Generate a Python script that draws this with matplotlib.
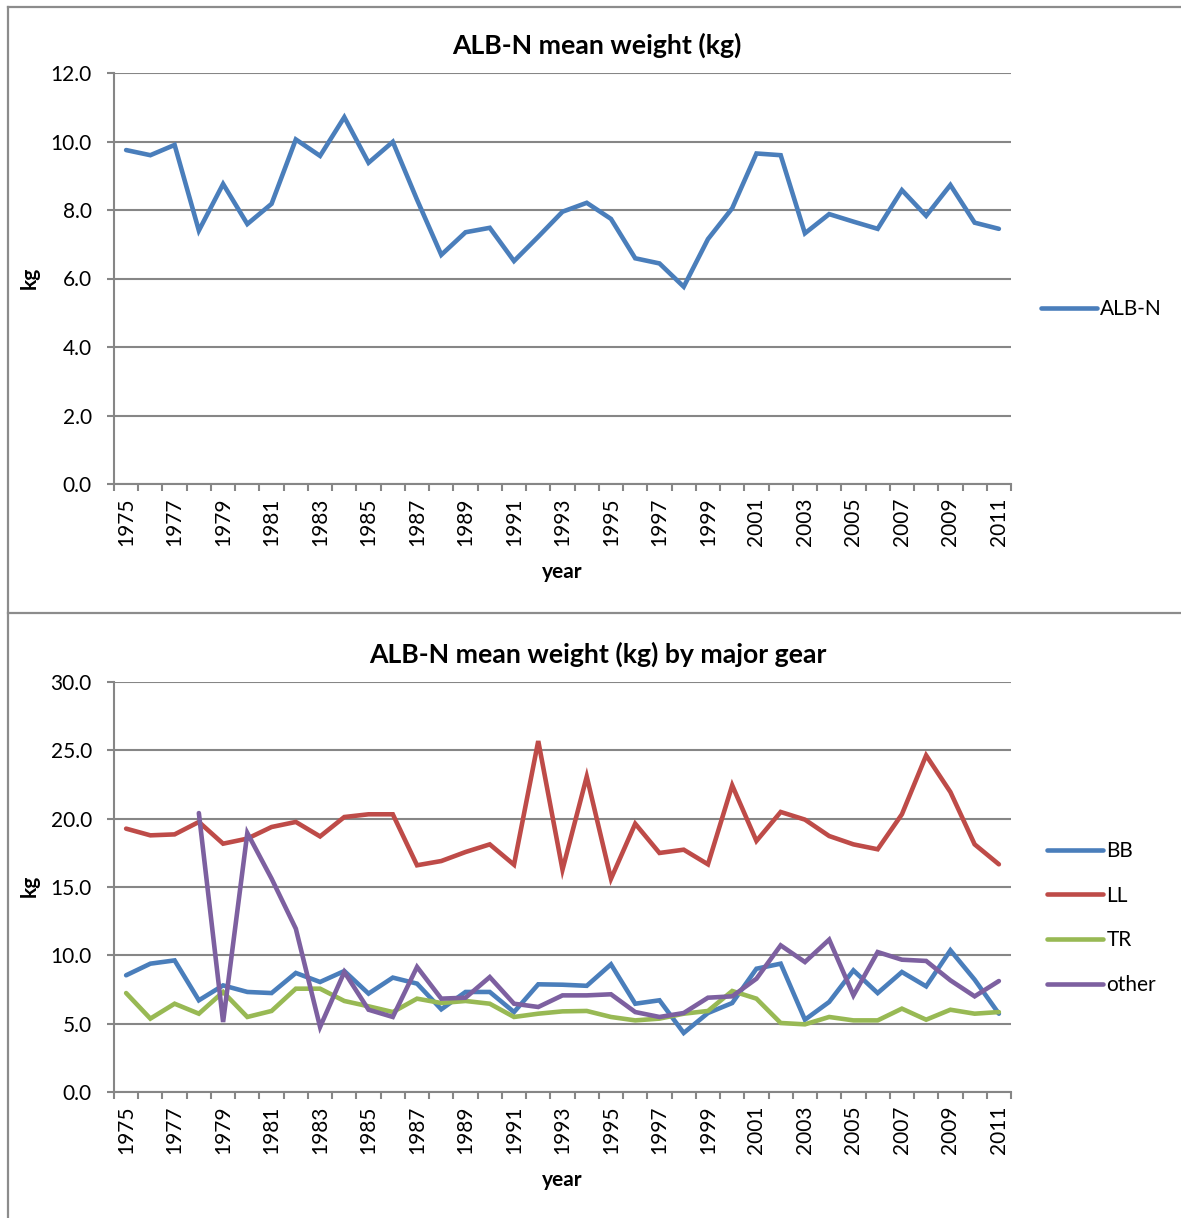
import matplotlib

matplotlib.use("Agg")
import matplotlib.pyplot as plt
from matplotlib.lines import Line2D
from matplotlib.ticker import FixedLocator, FuncFormatter

plt.rcParams["font.family"] = ["Lato", "DejaVu Sans"]

YEARS = list(range(1975, 2012))

# mean weight (kg), all gears
ALB_N = [9.75, 9.6, 9.9, 7.4, 8.76, 7.59, 8.18, 10.06, 9.58, 10.71,
         9.38, 9.99, 8.3, 6.69, 7.35, 7.48, 6.51, 7.22, 7.95, 8.21,
         7.74, 6.59, 6.44, 5.76, 7.15, 8.05, 9.65, 9.6, 7.32, 7.88,
         7.66, 7.45, 8.58, 7.83, 8.73, 7.63, 7.45]

# mean weight (kg) by major gear
BB = [8.54, 9.39, 9.63, 6.71, 7.8, 7.32, 7.24, 8.71, 8.05, 8.85,
      7.2, 8.37, 7.93, 6.05, 7.32, 7.32, 5.85, 7.88, 7.85, 7.77,
      9.34, 6.46, 6.71, 4.32, 5.78, 6.51, 9.02, 9.39, 5.29, 6.59,
      8.9, 7.24, 8.78, 7.73, 10.37, 8.22, 5.73]
LL = [19.27, 18.78, 18.85, 19.76, 18.17, 18.54, 19.39, 19.76, 18.7, 20.12,
      20.32, 20.32, 16.59, 16.9, 17.56, 18.12, 16.63, 25.68, 16.27, 23.08,
      15.6, 19.63, 17.49, 17.73, 16.66, 22.44, 18.37, 20.49, 19.93, 18.73,
      18.12, 17.76, 20.32, 24.63, 21.95, 18.12, 16.66]
TR = [7.24, 5.37, 6.46, 5.73, 7.32, 5.49, 5.93, 7.56, 7.56, 6.66,
      6.27, 5.85, 6.83, 6.51, 6.66, 6.46, 5.49, 5.73, 5.9, 5.93,
      5.49, 5.24, 5.37, 5.73, 5.93, 7.39, 6.83, 5.05, 4.95, 5.49,
      5.24, 5.24, 6.1, 5.29, 6.02, 5.73, 5.85]
OTHER = [None, None, None, 20.41, 5.12, 18.95, 15.61, 11.95, 4.76, 8.78,
         6.02, 5.49, 9.15, 6.83, 6.9, 8.41, 6.46, 6.22, 7.07, 7.07,
         7.15, 5.85, 5.49, 5.78, 6.9, 7.0, 8.29, 10.73, 9.51, 11.15,
         7.07, 10.24, 9.68, 9.59, 8.17, 7.0, 8.12]

GEAR_NAMES = ["BB", "LL", "TR", "other"]
GEAR_COLORS = ["#4a7ebb", "#be4b48", "#98b954", "#7d60a0"]

W, H = 1181, 1218
AXIS = "#868686"
FS = 15
TITLE_FS = 19.2
LW = 3.3


def fx(px):
    return px / W


def fy(py):
    return 1 - py / H


def style(ax, ymax, ystep):
    n = len(YEARS)
    ax.set_xlim(-0.5, n - 0.5)
    ax.set_ylim(0, ymax)
    ax.set_yticks([i * ystep for i in range(int(round(ymax / ystep)) + 1)])
    ax.yaxis.set_major_formatter(FuncFormatter(lambda v, _: f"{v:.1f}"))
    ax.grid(True, axis="y", color=AXIS, linewidth=1.5)
    ax.set_axisbelow(True)
    for side in ("top", "right"):
        ax.spines[side].set_visible(False)
    for side in ("bottom", "left"):
        ax.spines[side].set_color(AXIS)
        ax.spines[side].set_linewidth(1.5)
    ax.tick_params(axis="y", colors=AXIS, length=5, width=1.5,
                   labelcolor="black", labelsize=FS, pad=11)
    # year labels on every other category, tick marks on category edges
    ax.xaxis.set_major_locator(FixedLocator(list(range(0, n, 2))))
    ax.set_xticklabels([str(y) for y in YEARS[::2]], rotation=90)
    ax.xaxis.set_minor_locator(FixedLocator([i - 0.5 for i in range(n + 1)]))
    ax.tick_params(axis="x", which="major", length=0, labelsize=FS, pad=10)
    ax.tick_params(axis="x", which="minor", length=5, width=1.5, colors=AXIS)
    ax.set_xlabel("year", fontsize=FS, fontweight="bold", labelpad=11)


fig = plt.figure(figsize=(W / 100, H / 100), dpi=100)
fig.set_facecolor("white")

# chart frames
for xs, ys in [((8, 8), (7, 1218)), ((8, 1181), (7, 7)), ((8, 1181), (613, 613))]:
    fig.add_artist(Line2D([fx(x) for x in xs], [fy(y) for y in ys],
                          color="#8c8c8c", linewidth=1.6))

x = list(range(len(YEARS)))

ax1 = fig.add_axes([fx(114), fy(484), fx(1011 - 114), (484 - 73) / H])
style(ax1, 12, 2)
ax1.plot(x, ALB_N, color=GEAR_COLORS[0], linewidth=LW, label="ALB-N",
         solid_capstyle="round", solid_joinstyle="miter")
fig.text(fx(597), fy(45), "ALB-N mean weight (kg)", fontsize=TITLE_FS,
         fontweight="bold", ha="center", va="center")
ax1.legend(loc="center left", bbox_to_anchor=(fx(1041), fy(309)),
           bbox_transform=fig.transFigure, frameon=False, fontsize=FS,
           handlelength=2.7, handletextpad=0.15, borderpad=0, borderaxespad=0)
fig.text(fx(30), fy(278), "kg", rotation=90, fontsize=FS, fontweight="bold",
         ha="center", va="center")

ax2 = fig.add_axes([fx(114), fy(1092), fx(1011 - 114), (1092 - 682) / H])
style(ax2, 30, 5)
for name, vals, color in zip(GEAR_NAMES, [BB, LL, TR, OTHER], GEAR_COLORS):
    px = [i for i, v in zip(x, vals) if v is not None]
    pv = [v for v in vals if v is not None]
    ax2.plot(px, pv, color=color, linewidth=LW, label=name,
             solid_capstyle="round", solid_joinstyle="miter")
fig.text(fx(598), fy(654), "ALB-N mean weight (kg) by major gear",
         fontsize=TITLE_FS, fontweight="bold", ha="center", va="center")
ax2.legend(loc="center left", bbox_to_anchor=(fx(1047), fy(918)),
           bbox_transform=fig.transFigure, frameon=False, fontsize=FS,
           handlelength=2.7, handletextpad=0.15, borderpad=0, borderaxespad=0,
           labelspacing=1.18)
fig.text(fx(30), fy(886), "kg", rotation=90, fontsize=FS, fontweight="bold",
         ha="center", va="center")

fig.savefig("out.png", dpi=100, facecolor="white")
